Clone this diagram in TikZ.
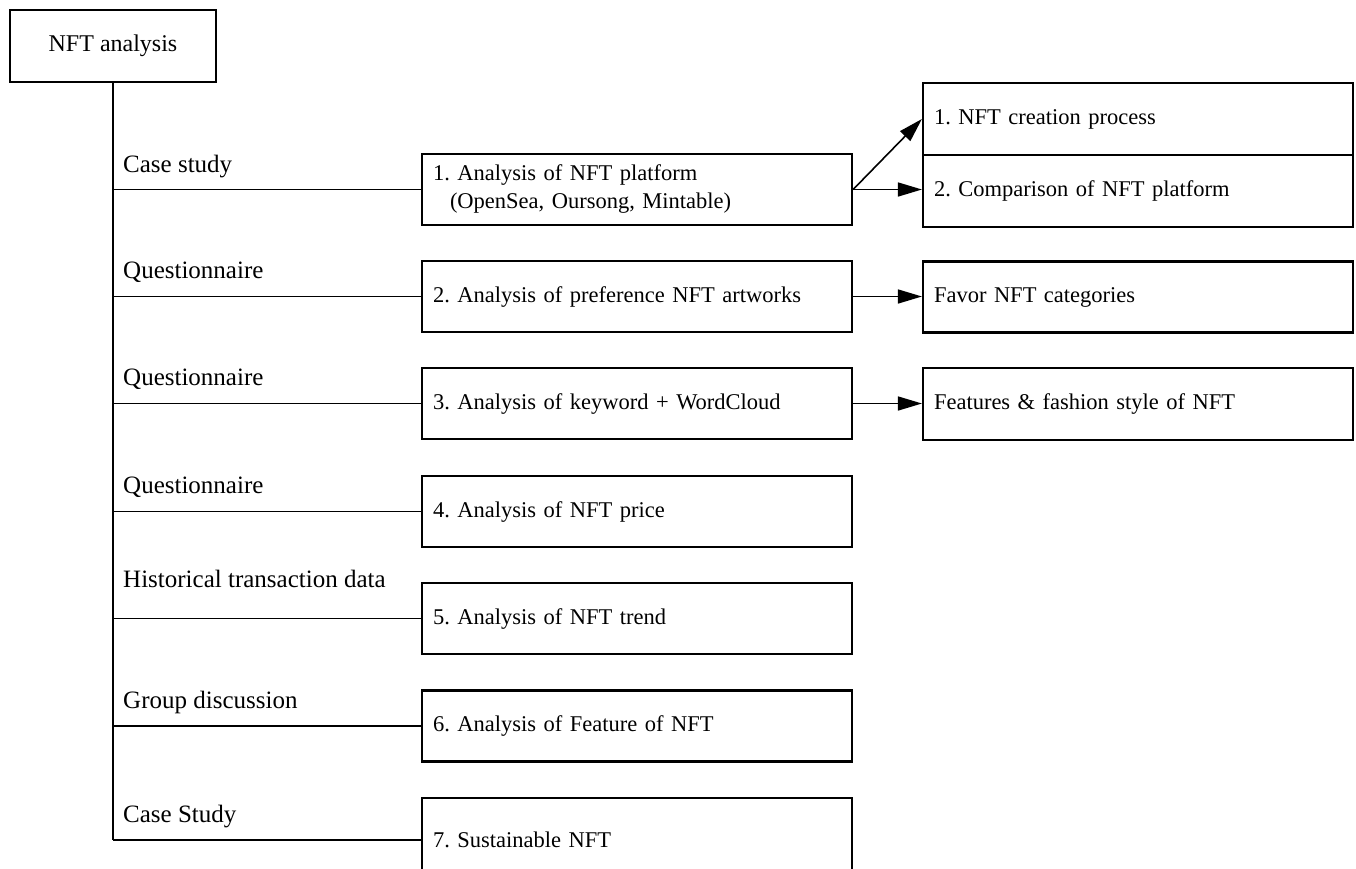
\documentclass[tikz,border=0pt]{standalone}
\usepackage{fontspec}
\setmainfont{Liberation Serif}
\usetikzlibrary{arrows.meta}
\frenchspacing
\begin{document}
\begin{tikzpicture}[x=1pt,y=-1pt,
  midbox/.style={draw, line width=2.2pt, minimum width=430pt, minimum height=71pt,
    text width=408pt, inner xsep=11pt, inner ysep=0pt, align=left,
    font=\fontsize{22.5}{28}\selectfont},
  rootbox/.style={draw, line width=2.2pt, minimum width=206pt, minimum height=72pt,
    inner sep=0pt, font=\fontsize{24}{28}\selectfont},
  lab/.style={anchor=base west, inner sep=0pt, font=\fontsize{25}{30}\selectfont},
  conn/.style={line width=1.6pt},
  arr/.style={line width=1.6pt, -{Triangle[length=24pt,width=14pt]}}
]
\useasboundingbox (0,0) rectangle (1356,868);

\node[rootbox] (root) at (113,46) {NFT analysis};

\node[midbox] (b1) at (637,189.5) {1. Analysis of NFT platform\\\hspace*{17pt}(OpenSea, Oursong, Mintable)};
\node[midbox] (b2) at (637,296.5) {2. Analysis of preference NFT artworks};
\node[midbox] (b3) at (637,403.5) {3. Analysis of keyword + WordCloud};
\node[midbox] (b4) at (637,511.5) {4. Analysis of NFT price};
\node[midbox] (b5) at (637,618.5) {5. Analysis of NFT trend};
\node[midbox] (b6) at (637,726) {6. Analysis of Feature of NFT};
\node[midbox, minimum height=84pt] (b7) at (637,840) {7. Sustainable NFT};

\node[midbox, minimum height=72pt] (r1) at (1138,119) {1. NFT creation process};
\node[midbox, minimum height=72pt] (r2) at (1138,191) {2. Comparison of NFT platform};
\node[midbox] (f1) at (1138,297) {Favor NFT categories};
\node[midbox, minimum height=72pt] (f2) at (1138,404) {Features \& fashion style of NFT};

\node[lab] (l1) at (123,172) {Case study};
\node[lab] (l2) at (123,278) {Questionnaire};
\node[lab] (l3) at (123,385) {Questionnaire};
\node[lab] (l4) at (123,493) {Questionnaire};
\node[lab] (l5) at (123,587) {Historical transaction data};
\node[lab] (l6) at (123,708) {Group discussion};
\node[lab] (l7) at (123,822) {Case Study};

\draw[conn] (root.south) -- (root.south |- b7.west);
\foreach \b in {b1,b2,b3,b4,b5,b6,b7}{
  \draw[conn] (root.south |- \b.west) -- (\b.west);
}

\draw[arr] (b1.east) -- (r1.west);
\draw[arr] (b1.east) -- (b1.east -| r2.west);
\draw[arr] (b2.east) -- (b2.east -| f1.west);
\draw[arr] (b3.east) -- (b3.east -| f2.west);
\end{tikzpicture}
\end{document}
